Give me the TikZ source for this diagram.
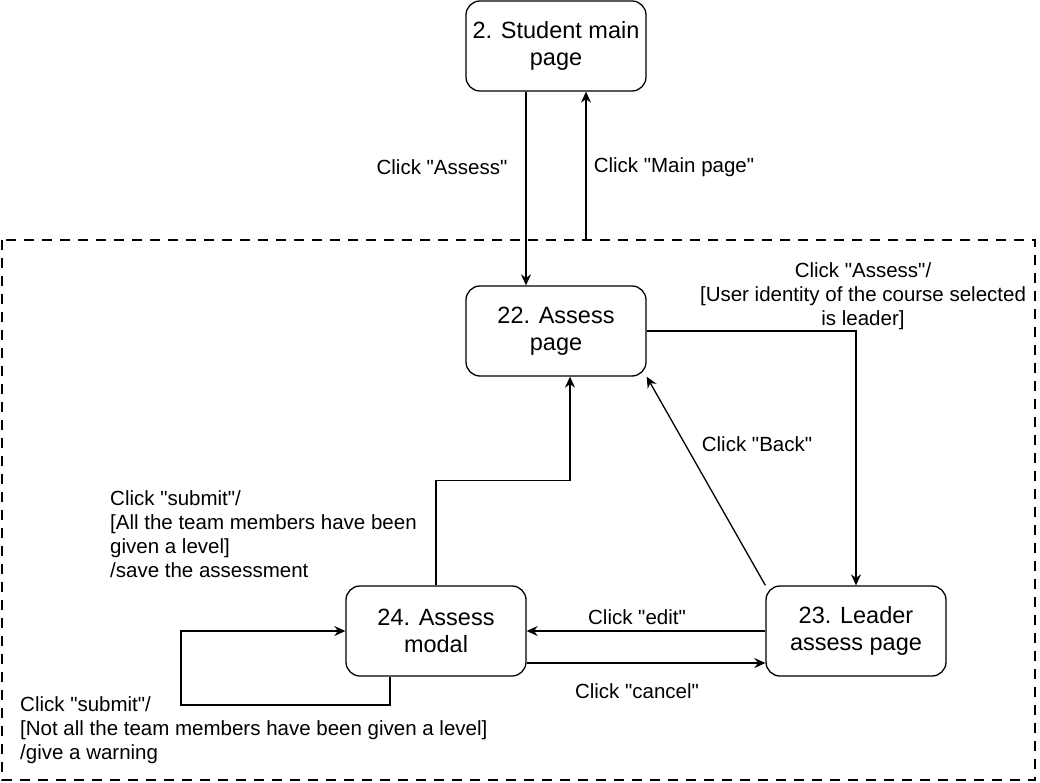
\documentclass[tikz,border=0pt]{standalone}
\usepackage{fontspec}
\setmainfont{Liberation Sans}[Ligatures=TeXOff]
\usetikzlibrary{arrows.meta}
\tikzset{page/.style={rectangle,draw,rounded corners=14pt,minimum width=180pt,minimum height=90pt,align=center,line width=1.3pt,font=\fontsize{23.5}{27.5}\selectfont},
  lbl/.style={inner sep=0pt,font=\fontsize{20.5}{24.2}\selectfont},
  arr/.style={-{Stealth[length=11pt,width=10pt]},line width=1.3pt}}

\begin{document}
\begin{tikzpicture}[x=1pt,y=-1pt]
      \useasboundingbox (0,0) rectangle (1040,783);
      \draw[line width=2.3pt,dash pattern=on 10pt off 8pt] (2,240) rectangle (1035,780);

      \node[page] (main) at (556,46) {2. Student main\\page};
      \node[page] (assess) at (556,331) {22. Assess\\page};
      \node[page] (modal) at (436,631) {24. Assess\\modal};
      \node[page] (leader) at (856,631) {23. Leader\\assess page};
      \coordinate (up) at (586,240);
      \coordinate (loop) at (181,705);

      \draw[arr] ([xshift=-30pt]main.south) -- ([xshift=-30pt]assess.north);
      \draw[arr] (up) -- (up |- main.south);
      \draw[arr] (assess.east) -| (leader.north);
      \draw[arr] (leader.north west) -- (assess.south east);
      \draw[arr] (leader.west) -- (modal.east);
      \draw[arr] ([yshift=-32pt]modal.east) -- ([yshift=-32pt]leader.west);
      \draw[arr] (modal.north) -- ++(0,-105) -| ([xshift=14pt]assess.south);
      \draw[arr] ([xshift=-46pt]modal.south) |- (loop) |- (modal.west);

      \node[lbl] (l1) at (442,167) {Click "Assess"};
      \node[lbl] (l2) at (674,167) {Click "Main page"};
      \node[lbl,align=center] (l3) at (863,296) {Click "Assess"/\\{}[User identity of the course selected\\is leader]};
      \node[lbl] (l4) at (757,444) {Click "Back"};
      \node[lbl] (l5) at (637,617) {Click "edit"};
      \node[lbl] (l6) at (637,691) {Click "cancel"};
      \node[lbl,align=left,anchor=west] (l7) at (110,534) {Click "submit"/\\{}[All the team members have been\\given a level]\\/save the assessment};
      \node[lbl,align=left,anchor=west] (l8) at (20,730) {Click "submit"/\\{}[Not all the team members have been given a level]\\/give a warning};
    \end{tikzpicture}
\end{document}
